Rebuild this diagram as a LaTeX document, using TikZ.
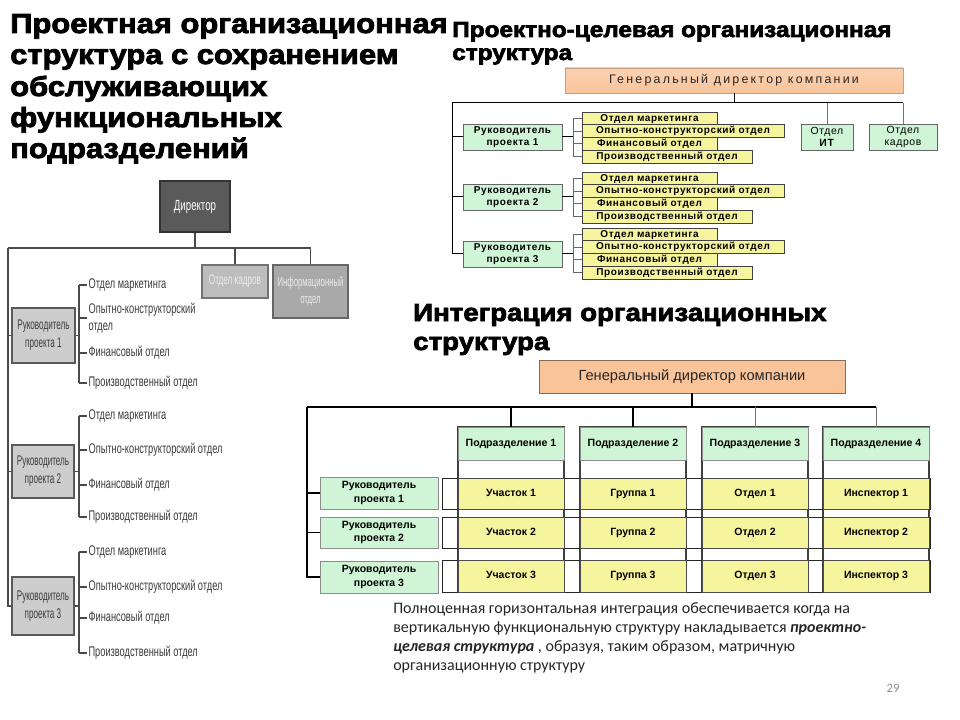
\documentclass[tikz,border=0pt]{standalone}
\usepackage{fontspec}
\setmainfont{Liberation Sans}
\newfontfamily\heavy{Liberation Sans}[FakeStretch=1.12, BoldFeatures={FakeBold=3}]
\newfontfamily\narrowf{Liberation Sans}[FakeStretch=0.66]
\newfontfamily\narrowx{Liberation Sans}[FakeStretch=0.58]
\newfontfamily\spaced{Liberation Sans}[LetterSpace=6]
\newfontfamily\spacedw{Liberation Sans}[LetterSpace=18]
\newfontfamily\calib{Carlito}
\definecolor{lgr}{HTML}{4A4A4A}
\definecolor{ltxt}{HTML}{3C3C3C}
\definecolor{dirgr}{HTML}{5A5A5A}
\definecolor{boxgr}{HTML}{CDCDCD}
\definecolor{kadgr}{HTML}{BDBDBD}
\definecolor{infgr}{HTML}{A9A9A9}
\definecolor{cgrn}{HTML}{CFF5D6}
\definecolor{cyel}{HTML}{F6F49C}
\definecolor{cpeach}{HTML}{F9C49A}
\definecolor{cpeachl}{HTML}{FAD2B2}
\begin{document}
\begin{tikzpicture}[x=0.75pt,y=-0.75pt,
  bx/.style n args={4}{at={({((#1)+(#3))/2},{((#2)+(#4))/2})}, anchor=center,
     minimum width={((#3)-(#1))*0.75pt}, minimum height={((#4)-(#2))*0.75pt}},
  ttl/.style={anchor=base west, inner sep=0pt, font=\heavy\bfseries\fontsize{#1}{#1}\selectfont},
  lline/.style={draw=lgr, line width=1.1pt},
  litem/.style={anchor=west, inner sep=1pt, text=ltxt, align=left, font=\narrowf\fontsize{10.5}{12.5}\selectfont},
  lbox/.style={inner sep=0pt, align=center, draw=black!65, line width=1pt, fill=boxgr, text=ltxt, font=\narrowx\fontsize{10.5}{13.5}\selectfont},
  tline/.style={draw=black, line width=0.75pt},
  gbox/.style={inner sep=0pt, align=center, fill=cgrn, draw=black!60, line width=0.6pt, font=\spaced\bfseries\fontsize{7.5}{9.5}\selectfont},
  gboxr/.style={inner sep=0pt, align=center, fill=cgrn, draw=black!60, line width=0.6pt, font=\spaced\fontsize{7.8}{9.5}\selectfont},
  ybox/.style={inner sep=0pt, text height=5.6pt, text depth=1.6pt, fill=cyel, draw=black!75, line width=0.6pt, font=\spaced\bfseries\fontsize{7.5}{8}\selectfont},
  bline/.style={draw=black, line width=1pt},
  cbox/.style={inner sep=0pt, text height=5.8pt, text depth=1.7pt, fill=cyel, draw=black!70, line width=0.6pt, font=\bfseries\fontsize{7.9}{9.5}\selectfont},
  hbox/.style={inner sep=0pt, text height=5.8pt, text depth=1.7pt, fill=cgrn, draw=black!45, line width=0.5pt, font=\bfseries\fontsize{7.9}{9.5}\selectfont},
  rbox/.style={inner sep=0pt, align=center, fill=cgrn, draw=black!45, line width=0.5pt, font=\bfseries\fontsize{7.9}{10}\selectfont}
]
\useasboundingbox (0,0) rectangle (960,720);
\fill[white] (0,0) rectangle (960,720);

% ---------- titles ----------
\node[ttl=20.7] (t1a) at (10,33) {Проектная организационная};
\node[ttl=20.7] (t1b) at (10,64) {структура с сохранением};
\node[ttl=20.7] (t1c) at (10,96) {обслуживающих};
\node[ttl=20.7] (t1d) at (10,127) {функциональных};
\node[ttl=20.7] (t1e) at (10,158) {подразделений};

\node[ttl=16.3] (t2a) at (452,37) {Проектно-целевая организационная};
\node[ttl=16.3] (t2b) at (452,60) {структура};

\node[ttl=18.5] (t3a) at (413,321) {Интеграция организационных};
\node[ttl=18.5] (t3b) at (413,350) {структура};

% ---------- left diagram ----------
\node[bx={160}{181}{230}{232}, inner sep=0pt, fill=dirgr, draw=black!80, line width=1pt, text=white, font=\narrowf\fontsize{11}{13}\selectfont] (dir) {Директор};
\node[bx={202}{265}{268}{298}, inner sep=0pt, fill=kadgr, draw=black!55, line width=1pt, text=white!92!black, font=\narrowx\fontsize{10.5}{12}\selectfont] (kad) {Отдел кадров};
\node[bx={273}{265}{348}{318}, inner sep=0pt, align=center, fill=infgr, draw=black!60, line width=1pt, text=white!92!black, font=\narrowx\fontsize{10}{13}\selectfont] (inf) {Информационный\\отдел};

\node[lbox, bx={12}{308}{75}{363}] (lr1) {Руководитель\\проекта 1};
\node[lbox, bx={12}{445}{74}{498}] (lr2) {Руководитель\\проекта 2};
\node[lbox, bx={12}{577}{74}{635}] (lr3) {Руководитель\\проекта 3};

\coordinate (lh) at (8,248);
\draw[lline] (lh) -- (lh -| inf.north);
\draw[lline] (dir.south) -- (dir.south |- lh);
\draw[lline] (kad.north) -- (kad.north |- lh);
\draw[lline] (inf.north) -- (inf.north |- lh);
\draw[lline] (lh) |- (lr3.west);
\draw[lline] (lr1.west) -- (lr1.west -| lh);
\draw[lline] (lr2.west) -- (lr2.west -| lh);

\node[litem] (a1) at (87,285) {Отдел маркетинга};
\node[litem] (a2) at (87,318) {Опытно-конструкторский\\отдел};
\node[litem] (a3) at (87,353) {Финансовый отдел};
\node[litem] (a4) at (87,383) {Производственный отдел};
\node[litem] (b1) at (87,416) {Отдел маркетинга};
\node[litem] (b2) at (87,450) {Опытно-конструкторский отдел};
\node[litem] (b3) at (87,485) {Финансовый отдел};
\node[litem] (b4) at (87,517) {Производственный отдел};
\node[litem] (c1) at (87,552) {Отдел маркетинга};
\node[litem] (c2) at (87,587) {Опытно-конструкторский отдел};
\node[litem] (c3) at (87,618) {Финансовый отдел};
\node[litem] (c4) at (87,653) {Производственный отдел};

\coordinate (lb) at (79,0);
\foreach \g/\r in {a/lr1,b/lr2,c/lr3}{
  \draw[lline] (\r.east) -- (\r.east -| lb);
  \draw[lline] (\g1.west -| lb) -- (\g4.west -| lb);
  \foreach \k in {1,2,3,4} \draw[lline] (\g\k.west -| lb) -- (\g\k.west);
}

% ---------- top-right diagram ----------
\node[bx={565}{68}{903}{93}, inner sep=0pt, top color=cpeachl, bottom color=cpeach, draw=cpeach!80!black, line width=0.4pt, font=\spacedw\fontsize{9.3}{10}\selectfont, text=black!85] (gd1) {Генеральный директор компании};
\coordinate (th) at (452,103);
\node[gboxr, bx={801}{124}{853}{150}] (it) {Отдел\\\textbf{ИТ}};
\node[gboxr, bx={869}{124}{937}{150}] (kd) {Отдел\\кадров};
\node[gbox, bx={463}{124}{562}{150}] (tr1) {Руководитель\\проекта 1};
\node[gbox, bx={463}{184}{562}{210}] (tr2) {Руководитель\\проекта 2};
\node[gbox, bx={463}{241}{562}{267}] (tr3) {Руководитель\\проекта 3};
\draw[tline] (th) -- (th -| kd.north);
\draw[tline] (gd1.south) -- (gd1.south |- th);
\draw[tline, draw=black!55] (it.north) -- (it.north |- th);
\draw[tline, draw=black!55] (kd.north) -- (kd.north |- th);
\draw[tline] (th) |- (tr3.west);
\draw[tline] (tr1.west) -- (tr1.west -| th);
\draw[tline] (tr2.west) -- (tr2.west -| th);

\foreach \g/\t in {1/112,2/172,3/228}{
  \node[ybox, bx={582}{\t}{717}{\t+12.75}] (m\g) {Отдел маркетинга};
  \node[ybox, bx={582}{\t+12.75}{784}{\t+25.5}] (o\g) {Опытно-конструкторский отдел};
  \node[ybox, bx={582}{\t+25.5}{717}{\t+38.25}] (f\g) {Финансовый отдел};
  \node[ybox, bx={582}{\t+38.25}{752}{\t+51}] (p\g) {Производственный отдел};
}
\coordinate (tb) at (573,0);
\foreach \g in {1,2,3}{
  \draw[tline] (tr\g.east) -- (tr\g.east -| tb);
  \draw[tline, draw=black!60] (m\g.west -| tb) -- (p\g.west -| tb);
  \foreach \n in {m,o,f,p} \draw[tline, draw=black!60] (\n\g.west -| tb) -- (\n\g.west);
}

% ---------- bottom-right diagram ----------
\node[bx={539}{360}{845}{393}, inner sep=0pt, fill=cpeach, draw=cpeach!55!black, line width=0.6pt, font=\fontsize{11}{12}\selectfont, text=black!85] (gd2) {Генеральный директор компании};

% column outlines
\foreach \x in {458,580,702,823}
  \draw[draw=black!75, line width=0.9pt, fill=white] (\x,427) rectangle (\x+106,592);
% row bands
\foreach \a/\b in {478/509,517/548,560/592}
  \draw[draw=black!85, line width=0.7pt] (442,\a) rectangle (930,\b);

\foreach \i/\x in {1/458,2/580,3/702,4/823}
  \node[hbox, bx={\x}{427}{\x+106}{460}] (h\i) {Подразделение \i};

\foreach \r/\a/\b in {1/478/509,2/517/548,3/560/592}{
  \node[cbox, bx={458}{\a}{564}{\b}] (u\r) {Участок \r};
  \node[cbox, bx={580}{\a}{686}{\b}] (g\r) {Группа \r};
  \node[cbox, bx={702}{\a}{808}{\b}] (d\r) {Отдел \r};
  \node[cbox, bx={823}{\a}{929}{\b}] (i\r) {Инспектор \r};
}

\node[rbox, bx={320}{477}{438}{509}] (br1) {Руководитель\\проекта 1};
\node[rbox, bx={320}{517}{438}{548}] (br2) {Руководитель\\проекта 2};
\node[rbox, bx={320}{561}{438}{593}] (br3) {Руководитель\\проекта 3};

\coordinate (bl) at (307,407);
\draw[bline] (bl) -- (bl -| h4.north);
\draw[bline] (gd2.south) -- (gd2.south |- bl);
\draw[bline] (h1.north) -- (h1.north |- bl);
\draw[bline] (h2.north) -- (h2.north |- bl);
\draw[bline, draw=black!55, line width=0.6pt] (h3.north) -- (h3.north |- bl);
\draw[bline, draw=black!55, line width=0.6pt] (h4.north) -- (h4.north |- bl);
\draw[bline] (bl) |- (br3.west);
\draw[bline] (br1.west) -- (br1.west -| bl);
\draw[bline] (br2.west) -- (br2.west -| bl);

% ---------- caption ----------
\node[anchor=north west, inner sep=0pt, align=left, text=black!85, font=\calib\fontsize{12}{14.25}\selectfont] (para) at (393,602)
{Полноценная горизонтальная интеграция обеспечивается когда на\\
вертикальную функциональную структуру накладывается \textbf{\textit{проектно-}}\\
\textbf{\textit{целевая структура}} , образуя, таким образом, матричную\\
организационную структуру};

\node[inner sep=0pt, text=black!45, font=\calib\fontsize{9.5}{11}\selectfont] (pg) at (893,688) {29};
\end{tikzpicture}
\end{document}
